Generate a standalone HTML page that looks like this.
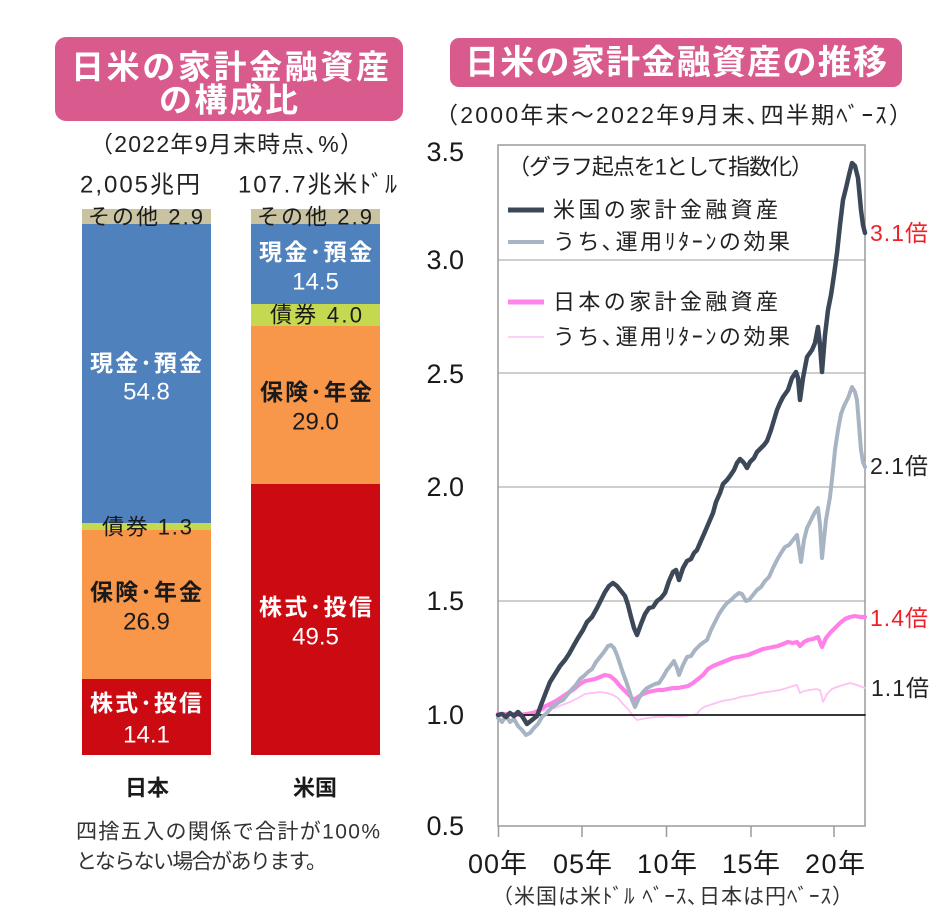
<!DOCTYPE html>
<html><head><meta charset="utf-8"><style>
html,body{margin:0;padding:0;background:#fff;}
svg{display:block;}
text{font-family:"Liberation Sans","Noto Sans CJK JP",sans-serif;}
</style></head><body>
<svg width="938" height="918" viewBox="0 0 938 918" xmlns="http://www.w3.org/2000/svg">
<rect width="938" height="918" fill="#fff"/>
<!-- LEFT PANEL -->
<rect x="55" y="37" width="348" height="84" rx="11" fill="#D95A8C"/>
<text x="71" y="67" font-size="33" font-weight="bold" fill="#fff" dominant-baseline="central" textLength="318" lengthAdjust="spacing">日米の家計金融資産</text>
<text x="159" y="100" font-size="33" font-weight="bold" fill="#fff" dominant-baseline="central" textLength="139" lengthAdjust="spacing">の構成比</text>
<text x="90" y="144" font-size="23" fill="#222" dominant-baseline="central" textLength="273" lengthAdjust="spacing">（2022年9月末時点､%）</text>
<text x="80" y="185" font-size="24" fill="#222" dominant-baseline="central" textLength="120" lengthAdjust="spacing">2,005兆円</text>
<text x="238" y="185" font-size="24" fill="#222" dominant-baseline="central" textLength="159" lengthAdjust="spacing">107.7兆米ﾄﾞﾙ</text>

<!-- Japan bar -->
<rect x="82" y="209" width="129" height="15" fill="#C9C3A2"/>
<rect x="82" y="224" width="129" height="299" fill="#4F81BD"/>
<rect x="82" y="523" width="129" height="7" fill="#C4D850"/>
<rect x="82" y="530" width="129" height="149" fill="#F8964A"/>
<rect x="82" y="679" width="129" height="76" fill="#CC0A12"/>
<!-- US bar -->
<rect x="251" y="209" width="129" height="15" fill="#C9C3A2"/>
<rect x="251" y="224" width="129" height="80" fill="#4F81BD"/>
<rect x="251" y="304" width="129" height="22" fill="#C4D850"/>
<rect x="251" y="326" width="129" height="158" fill="#F8964A"/>
<rect x="251" y="484" width="129" height="271" fill="#CC0A12"/>

<text x="88" y="217" font-size="22" fill="#1a1a1a" dominant-baseline="central" textLength="115" lengthAdjust="spacing">その他 2.9</text>
<text x="257" y="217" font-size="22" fill="#1a1a1a" dominant-baseline="central" textLength="115" lengthAdjust="spacing">その他 2.9</text>

<text x="90" y="363" font-size="23" font-weight="bold" fill="#fff" dominant-baseline="central" textLength="112" lengthAdjust="spacing">現金･預金</text>
<text x="146.5" y="392" font-size="24" fill="#fff" dominant-baseline="central" text-anchor="middle">54.8</text>
<text x="102" y="527" font-size="22" fill="#1a1a1a" dominant-baseline="central" textLength="90" lengthAdjust="spacing">債券 1.3</text>
<text x="90" y="592" font-size="23" font-weight="bold" fill="#1a1a1a" dominant-baseline="central" textLength="112" lengthAdjust="spacing">保険･年金</text>
<text x="146.5" y="622" font-size="24" fill="#1a1a1a" dominant-baseline="central" text-anchor="middle">26.9</text>
<text x="90" y="703" font-size="23" font-weight="bold" fill="#fff" dominant-baseline="central" textLength="112" lengthAdjust="spacing">株式･投信</text>
<text x="146.5" y="735" font-size="24" fill="#fff" dominant-baseline="central" text-anchor="middle">14.1</text>

<text x="259" y="252" font-size="23" font-weight="bold" fill="#fff" dominant-baseline="central" textLength="113" lengthAdjust="spacing">現金･預金</text>
<text x="315.5" y="282" font-size="24" fill="#fff" dominant-baseline="central" text-anchor="middle">14.5</text>
<text x="270" y="315" font-size="22" fill="#1a1a1a" dominant-baseline="central" textLength="92" lengthAdjust="spacing">債券 4.0</text>
<text x="260" y="392" font-size="23" font-weight="bold" fill="#1a1a1a" dominant-baseline="central" textLength="112" lengthAdjust="spacing">保険･年金</text>
<text x="315.5" y="422" font-size="24" fill="#1a1a1a" dominant-baseline="central" text-anchor="middle">29.0</text>
<text x="259" y="607" font-size="23" font-weight="bold" fill="#fff" dominant-baseline="central" textLength="113" lengthAdjust="spacing">株式･投信</text>
<text x="315.5" y="637" font-size="24" fill="#fff" dominant-baseline="central" text-anchor="middle">49.5</text>

<text x="147" y="788" font-size="22" font-weight="bold" fill="#1a1a1a" dominant-baseline="central" text-anchor="middle">日本</text>
<text x="315" y="788" font-size="22" font-weight="bold" fill="#1a1a1a" dominant-baseline="central" text-anchor="middle">米国</text>
<text x="76" y="832" font-size="21" fill="#333" dominant-baseline="central" textLength="304" lengthAdjust="spacing">四捨五入の関係で合計が100%</text>
<text x="76" y="862" font-size="21" fill="#333" dominant-baseline="central" textLength="251" lengthAdjust="spacing">とならない場合があります。</text>

<!-- RIGHT PANEL -->
<rect x="450" y="38" width="452" height="49" rx="9" fill="#D95A8C"/>
<text x="465" y="63" font-size="34" font-weight="bold" fill="#fff" dominant-baseline="central" textLength="422" lengthAdjust="spacing">日米の家計金融資産の推移</text>
<text x="435" y="115" font-size="23" fill="#222" dominant-baseline="central" textLength="477" lengthAdjust="spacing">（2000年末～2022年9月末､四半期ﾍﾞｰｽ）</text>

<!-- grid -->
<g stroke="#BDBDBD" stroke-width="1.5">
<line x1="498" y1="260" x2="865" y2="260"/>
<line x1="498" y1="373" x2="865" y2="373"/>
<line x1="498" y1="487" x2="865" y2="487"/>
<line x1="498" y1="601" x2="865" y2="601"/>
</g>
<g stroke="#9A9A9A" stroke-width="1.5" fill="none">
<rect x="498" y="145" width="367" height="681"/>
<line x1="498.5" y1="826" x2="498.5" y2="837"/>
<line x1="582" y1="826" x2="582" y2="837"/>
<line x1="666.5" y1="826" x2="666.5" y2="837"/>
<line x1="751" y1="826" x2="751" y2="837"/>
<line x1="834" y1="826" x2="834" y2="837"/>
</g>

<!-- y labels -->
<g font-size="27" fill="#1a1a1a" text-anchor="end" dominant-baseline="central">
<text x="464" y="152">3.5</text>
<text x="464" y="260">3.0</text>
<text x="464" y="374">2.5</text>
<text x="464" y="487">2.0</text>
<text x="464" y="601">1.5</text>
<text x="464" y="715">1.0</text>
<text x="464" y="826">0.5</text>
</g>
<!-- x labels -->
<g font-size="27" fill="#1a1a1a" dominant-baseline="central">
<text x="468" y="864" textLength="59" lengthAdjust="spacing">00年</text>
<text x="553" y="864" textLength="59" lengthAdjust="spacing">05年</text>
<text x="637" y="864" textLength="60" lengthAdjust="spacing">10年</text>
<text x="722" y="864" textLength="58" lengthAdjust="spacing">15年</text>
<text x="805" y="864" textLength="60" lengthAdjust="spacing">20年</text>
</g>
<text x="492" y="897" font-size="21" fill="#333" dominant-baseline="central" textLength="361" lengthAdjust="spacing">（米国は米ﾄﾞﾙ ﾍﾞｰｽ､日本は円ﾍﾞｰｽ）</text>

<!-- legend -->
<text x="508" y="167" font-size="22" fill="#222" dominant-baseline="central" textLength="305" lengthAdjust="spacing">（グラフ起点を1として指数化）</text>
<line x1="508" y1="210" x2="544" y2="210" stroke="#3C4858" stroke-width="5"/>
<text x="553" y="210" font-size="22" fill="#222" dominant-baseline="central" textLength="225" lengthAdjust="spacing">米国の家計金融資産</text>
<line x1="508" y1="242" x2="544" y2="242" stroke="#A8B4C4" stroke-width="4"/>
<text x="553" y="242" font-size="22" fill="#222" dominant-baseline="central" textLength="237" lengthAdjust="spacing">うち､運用ﾘﾀｰﾝの効果</text>
<line x1="508" y1="302" x2="544" y2="302" stroke="#FF85EC" stroke-width="5"/>
<text x="553" y="302" font-size="22" fill="#222" dominant-baseline="central" textLength="225" lengthAdjust="spacing">日本の家計金融資産</text>
<line x1="508" y1="337" x2="544" y2="337" stroke="#FFC0F2" stroke-width="1.5"/>
<text x="553" y="337" font-size="22" fill="#222" dominant-baseline="central" textLength="237" lengthAdjust="spacing">うち､運用ﾘﾀｰﾝの効果</text>

<!-- series -->
<g fill="none" stroke-linejoin="round" stroke-linecap="round">
<polyline stroke="#FFC0F2" stroke-width="1.8" points="498,715 510,715 520,714 530,714 540,711 547,710 555,708 562,705 570,702 578,698 585,694 592,693 600,692 607,693 613,695 618,698 623,704 628,709 633,716 637,720 642,719 648,718 655,717 663,717 670,716 678,717 685,716 692,715 697,714 700,710 704,707 710,705 716,703 722,701 728,700 734,699 740,697 746,696 753,695 760,693 767,692 774,691 780,690 787,688 793,686 797,685 800,693 804,691 810,690 816,689 820,690 823,702 827,694 832,689 837,687 843,685 850,683 857,685 865,688"/>
<polyline stroke="#FF80E8" stroke-width="4.2" points="498,714 505,714 512,714 520,715 527,714 533,713 538,711 544,707 550,704 556,701 562,697 568,693 574,689 580,684 585,681 590,680 595,679 600,677 605,675 610,676 615,680 620,686 625,691 630,696 634,700 638,697 643,694 648,692 653,691 658,690 663,690 668,689 673,688 678,688 683,687 688,686 693,683 698,679 703,675 708,669 713,666 718,664 723,662 728,660 733,658 738,657 743,656 748,655 753,653 758,651 763,649 768,648 773,647 778,646 783,644 788,642 793,643 797,642 800,646 804,642 808,640 813,639 818,637 822,647 826,638 830,633 835,628 840,623 845,619 850,617 855,616 860,617 865,617"/>
<line x1="498" y1="715" x2="865" y2="715" stroke="#1a1a1a" stroke-width="1.8"/>
<polyline stroke="#A8B4C4" stroke-width="4" points="498,718 502,722 506,716 510,722 514,719 518,726 522,730 526,735 530,733 534,728 538,724 542,717 547,713 551,708 555,705 559,702 563,700 568,694 572,689 576,685 580,679 584,676 588,672 592,669 596,662 600,657 604,652 608,646 611,645 614,648 617,655 620,664 623,673 626,681 629,690 632,700 635,707 639,698 643,692 647,688 651,686 655,684 659,683 663,677 667,670 671,665 674,661 677,668 679,675 683,665 687,657 691,656 695,650 700,645 704,642 707,640 711,630 715,622 719,614 723,608 727,603 731,600 735,596 739,593 742,594 746,601 749,600 753,595 757,590 761,587 765,581 769,577 773,568 777,560 781,553 785,547 789,545 793,540 797,535 801,562 804,540 807,528 811,520 815,512 818,508 820,525 822,558 826,520 830,497 833,470 835,450 838,430 841,414 844,406 848,398 852,387 855,392 857,400 859,425 861,450 863,462 865,467"/>
<polyline stroke="#3C4858" stroke-width="4.5" points="498,715 502,714 506,717 510,713 514,716 518,712 522,716 527,724 532,720 537,716 541,705 546,692 550,682 555,674 560,666 565,660 569,654 574,645 578,638 583,630 587,622 592,617 597,608 601,600 605,592 609,586 613,583 617,586 621,591 625,596 628,605 631,617 634,628 637,635 641,624 645,614 649,608 653,607 657,601 661,598 665,593 669,581 673,572 676,570 679,580 683,568 687,561 691,559 694,553 697,550 700,543 704,534 707,527 710,520 713,513 716,502 720,493 723,484 727,480 730,476 734,470 737,463 740,459 744,463 747,468 750,462 754,458 757,452 761,448 764,445 767,441 771,430 774,420 777,410 780,403 783,397 788,390 792,378 796,372 798,378 800,400 803,378 807,357 812,350 815,343 818,327 820,345 822,372 825,335 828,310 831,295 834,275 837,253 840,225 843,200 846,188 849,175 852,163 855,166 858,178 861,210 863,225 865,233"/>
</g>

<!-- end annotations -->
<text x="870" y="233" font-size="23" fill="#F0202A" dominant-baseline="central" textLength="58" lengthAdjust="spacing">3.1倍</text>
<text x="870" y="466" font-size="23" fill="#222" dominant-baseline="central" textLength="58" lengthAdjust="spacing">2.1倍</text>
<text x="870" y="618" font-size="23" fill="#F0202A" dominant-baseline="central" textLength="58" lengthAdjust="spacing">1.4倍</text>
<text x="871" y="688" font-size="23" fill="#222" dominant-baseline="central" textLength="58" lengthAdjust="spacing">1.1倍</text>
</svg>
</body></html>
